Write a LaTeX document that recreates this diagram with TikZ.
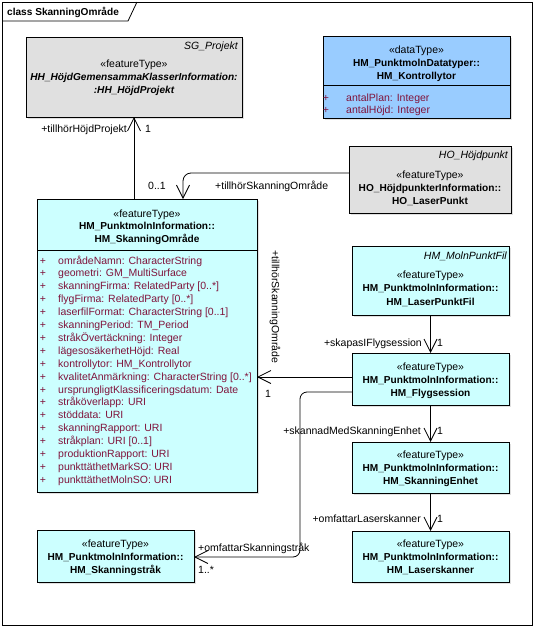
\documentclass[tikz,border=0pt]{standalone}
\usepackage{fontspec}
\setmainfont{Liberation Sans}
\usetikzlibrary{arrows.meta,shadows}
\definecolor{cyanfill}{RGB}{204,255,255}
\definecolor{bluefill}{RGB}{153,204,255}
\definecolor{grayfill}{RGB}{224,224,224}
\definecolor{attrcol}{RGB}{128,20,60}
\begin{document}
\begin{tikzpicture}[x=1pt,y=-1pt,
  box/.style={draw=black, line width=1pt, inner sep=0pt, outer sep=0pt, anchor=north west,
    drop shadow={shadow xshift=2pt, shadow yshift=-2pt, fill=black, opacity=0.12}},
  regtxt/.style={font=\fontsize{10.5}{12}\selectfont, inner sep=0pt, anchor=base},
  boldtxt/.style={font=\fontsize{10.1}{12}\selectfont\bfseries, inner sep=0pt, anchor=base},
  bitxt/.style={font=\fontsize{10.1}{12}\selectfont\bfseries\itshape, inner sep=0pt, anchor=base},
  ittxt/.style={font=\fontsize{10.5}{12}\selectfont\itshape, inner sep=0pt, anchor=base east},
  attrtxt/.style={font=\fontsize{10.5}{12}\selectfont, text=attrcol, inner sep=0pt, anchor=base west},
  plustxt/.style={font=\fontsize{10.5}{12}\selectfont, text=attrcol, inner sep=0pt, anchor=base},
  lbl/.style={font=\fontsize{10.5}{12}\selectfont, inner sep=0pt},
  assoc/.style={draw=black, line width=0.8pt, -{Straight Barb[length=13pt,width=13pt,line width=0.8pt]}},
  plainline/.style={draw=black, line width=0.8pt}
]
\useasboundingbox (0,0) rectangle (535,627);
\fill[white] (0,0) rectangle (535,627);

% frame
\draw[line width=0.8pt] (2,2) rectangle (532,625);
\draw[line width=0.8pt] (2,21) -- (128,21) -- (137,2);
\node[boldtxt, anchor=base west] (title) at (7,15) {class SkanningOmråde};

% SG_Projekt
\node[box, fill=grayfill, minimum width=216pt, minimum height=80pt] (sg) at (26,37) {};
\node[ittxt] (sgt) at (238,49) {SG\_Projekt};
\node[regtxt] (sgs) at (134,67) {«featureType»};
\node[bitxt] (sgn1) at (134,80) {HH\_HöjdGemensammaKlasserInformation:};
\node[bitxt] (sgn2) at (134,93) {:HH\_HöjdProjekt};

% Kontrollytor
\node[box, fill=bluefill, minimum width=187pt, minimum height=82pt] (ko) at (323,36) {};
\node[regtxt] (kos) at (416.5,53) {«dataType»};
\node[boldtxt] (kon1) at (416.5,66) {HM\_PunktmolnDatatyper::};
\node[boldtxt] (kon2) at (416.5,79) {HM\_Kontrollytor};
\draw[line width=0.8pt] (ko.west |- 0,85) -- (ko.east |- 0,85);
\node[plustxt] (kop1) at (326,101) {+};
\node[attrtxt] (koa1) at (346,101) {antalPlan: Integer};
\node[plustxt] (kop2) at (326,113) {+};
\node[attrtxt] (koa2) at (346,113) {antalHöjd: Integer};

% HO_LaserPunkt
\node[box, fill=grayfill, minimum width=162pt, minimum height=67pt] (ho) at (349,146) {};
\node[ittxt] (hot) at (508,158) {HO\_Höjdpunkt};
\node[regtxt] (hos) at (430,178) {«featureType»};
\node[boldtxt] (hon1) at (430,191) {HO\_HöjdpunkterInformation::};
\node[boldtxt] (hon2) at (430,204) {HO\_LaserPunkt};

% SkanningOmråde
\node[box, fill=cyanfill, minimum width=220pt, minimum height=293pt] (so) at (37,199) {};
\node[regtxt] (sos) at (147,217) {«featureType»};
\node[boldtxt] (son1) at (147,229.5) {HM\_PunktmolnInformation::};
\node[boldtxt] (son2) at (147,242) {HM\_SkanningOmråde};
\draw[line width=0.8pt] (so.west |- 0,250) -- (so.east |- 0,250);
\foreach \t [count=\i] in {{områdeNamn: CharacterString},{geometri: GM\_MultiSurface},
  {skanningFirma: RelatedParty [0..*]},{flygFirma: RelatedParty [0..*]},
  {laserfilFormat: CharacterString [0..1]},{skanningPeriod: TM\_Period},
  {stråkÖvertäckning: Integer},{lägesosäkerhetHöjd: Real},{kontrollytor: HM\_Kontrollytor},
  {kvalitetAnmärkning: CharacterString [0..*]},{ursprungligtKlassificeringsdatum: Date},
  {stråköverlapp: URI},{stöddata: URI},{skanningRapport: URI},{stråkplan: URI [0..1]},
  {produktionRapport: URI},{punkttäthetMarkSO: URI},{punkttäthetMolnSO: URI}}{
  \node[plustxt] (sop\i) at (43,{264+12.9*(\i-1)}) {+};
  \node[attrtxt] (soa\i) at (58,{264+12.9*(\i-1)}) {\t};
}

% LaserPunktFil
\node[box, fill=cyanfill, minimum width=157pt, minimum height=69pt] (lpf) at (352,246) {};
\node[ittxt] (lpft) at (507,259) {HM\_MolnPunktFil};
\node[regtxt] (lpfs) at (430.5,278) {«featureType»};
\node[boldtxt] (lpfn1) at (430.5,291) {HM\_PunktmolnInformation::};
\node[boldtxt] (lpfn2) at (430.5,305) {HM\_LaserPunktFil};

% Flygsession
\node[box, fill=cyanfill, minimum width=157pt, minimum height=52pt] (fs) at (352,353) {};
\node[regtxt] (fss) at (430.5,370) {«featureType»};
\node[boldtxt] (fsn1) at (430.5,383) {HM\_PunktmolnInformation::};
\node[boldtxt] (fsn2) at (430.5,396) {HM\_Flygsession};

% SkanningEnhet
\node[box, fill=cyanfill, minimum width=157pt, minimum height=51pt] (se) at (352,442) {};
\node[regtxt] (ses) at (430.5,458) {«featureType»};
\node[boldtxt] (sen1) at (430.5,471) {HM\_PunktmolnInformation::};
\node[boldtxt] (sen2) at (430.5,484) {HM\_SkanningEnhet};

% Laserskanner
\node[box, fill=cyanfill, minimum width=157pt, minimum height=51pt] (ls) at (352,531) {};
\node[regtxt] (lss) at (430.5,547) {«featureType»};
\node[boldtxt] (lsn1) at (430.5,560) {HM\_PunktmolnInformation::};
\node[boldtxt] (lsn2) at (430.5,573) {HM\_Laserskanner};

% Skanningstråk
\node[box, fill=cyanfill, minimum width=157pt, minimum height=52pt] (st) at (37,530) {};
\node[regtxt] (sts) at (115.5,547) {«featureType»};
\node[boldtxt] (stn1) at (115.5,560) {HM\_PunktmolnInformation::};
\node[boldtxt] (stn2) at (115.5,573) {HM\_Skanningstråk};

% connectors
\draw[assoc] (sg.south |- so.north) -- (sg.south);
\node[lbl, anchor=base east] (l1) at (127,132) {+tillhörHöjdProjekt};
\node[lbl, anchor=base west] (l1m) at (145,132) {1};

\draw[assoc, rounded corners=8pt] (ho.west |- 0,173) -- (183,173) -- (so.north -| 183,0);
\node[lbl, anchor=base west] (l2m) at (148,189) {0..1};
\node[lbl, anchor=base west] (l2) at (215,189) {+tillhörSkanningOmråde};

\draw[assoc] (fs.west |- 0,377) -- (so.east |- 0,377);
\node[lbl, rotate=-90] (l3) at (275,307) {+tillhörSkanningOmråde};
\node[lbl, anchor=base west] (l3m) at (265,397) {1};

\draw[assoc, rounded corners=7pt] (fs.west |- 0,392) -- (300,392) -- (300,557) -- (st.east |- 0,557);
\node[lbl, anchor=base west] (l4) at (198,551) {+omfattarSkanningstråk};
\node[lbl, anchor=base west] (l4m) at (198,573) {1..*};

\draw[assoc] (lpf.south) -- (fs.north);
\node[lbl, anchor=base east] (l5) at (422,346) {+skapasIFlygsession};
\node[lbl, anchor=base west] (l5m) at (437,346) {1};

\draw[assoc] (fs.south) -- (se.north);
\node[lbl, anchor=base east] (l6) at (421,434) {+skannadMedSkanningEnhet};
\node[lbl, anchor=base west] (l6m) at (437,434) {1};

\draw[assoc] (se.south) -- (ls.north);
\node[lbl, anchor=base east] (l7) at (421,522) {+omfattarLaserskanner};
\node[lbl, anchor=base west] (l7m) at (437,522) {1};
\end{tikzpicture}
\end{document}
